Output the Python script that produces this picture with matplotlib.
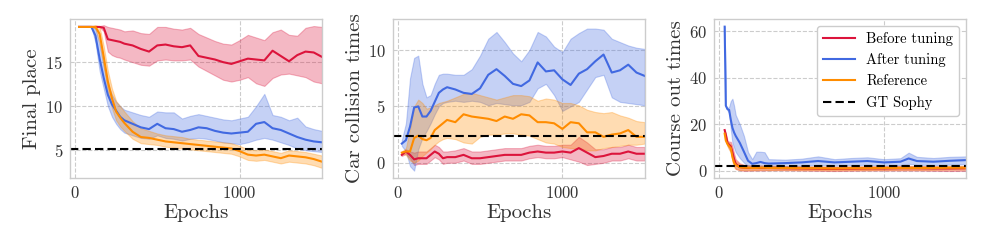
import numpy as np
import matplotlib
matplotlib.use("Agg")
import matplotlib.pyplot as plt

# ---- panel 1: final place ----
ep1 = [25, 100, 125, 150, 175, 200, 225, 250, 275, 300, 350, 400, 450, 500, 550, 600, 650,
       700, 750, 800, 850, 900, 950, 1000, 1050, 1100, 1150, 1200, 1250, 1300, 1350, 1400, 1450, 1500]
p1_before = [19, 19, 19, 19, 18.9, 17.6, 17.5, 17.4, 17.3, 17.1, 16.9, 16.5, 16.2, 16.9, 17.0, 16.8, 16.7,
             16.9, 15.7, 15.5, 15.3, 15.0, 14.8, 15.1, 15.4, 15.3, 15.2, 16.3, 15.7, 15.1, 15.8, 16.2, 16.1, 15.6]
p1_before_lo = [19, 19, 19, 19, 18.5, 16.2, 15.8, 15.6, 15.5, 15.3, 15.0, 14.7, 14.6, 15.2, 15.3, 15.2, 15.2,
                15.3, 14.5, 14.0, 13.5, 13.0, 12.8, 13.0, 13.3, 12.6, 12.3, 13.2, 13.6, 13.7, 13.5, 13.3, 12.8, 12.6]
p1_before_hi = [19, 19, 19, 19.1, 19.2, 19.0, 18.9, 18.8, 18.7, 18.5, 18.6, 18.3, 18.2, 19.0, 19.0, 18.8, 18.7,
                18.9, 18.2, 17.8, 17.4, 17.1, 17.0, 17.5, 18.1, 17.8, 17.5, 18.4, 18.7, 18.1, 18.0, 18.9, 19.1, 19.0]
p1_after = [19, 19, 18.0, 15.4, 13.2, 11.3, 10.2, 9.5, 8.8, 8.4, 8.0, 7.6, 7.4, 8.0, 7.5, 7.4, 7.1,
            7.3, 7.6, 7.5, 7.2, 7.0, 6.9, 7.0, 7.1, 8.0, 8.2, 7.5, 7.3, 6.9, 6.5, 6.2, 6.0, 5.9]
p1_after_lo = [19, 19, 17.2, 14.0, 12.0, 10.0, 8.8, 8.0, 7.4, 7.0, 6.7, 6.4, 6.3, 6.7, 6.4, 6.3, 6.1,
               6.3, 6.4, 6.3, 6.1, 5.9, 5.8, 5.7, 5.9, 6.2, 6.4, 6.2, 5.9, 5.6, 5.2, 5.0, 4.9, 4.8]
p1_after_hi = [19, 19, 18.8, 17.0, 14.6, 12.5, 11.3, 10.5, 10.0, 9.6, 9.3, 9.0, 8.8, 9.4, 9.3, 9.3, 8.6,
               8.9, 9.1, 8.9, 8.7, 8.5, 8.4, 8.6, 8.8, 10.0, 11.4, 9.0, 8.8, 8.4, 8.7, 7.7, 7.4, 7.2]
p1_ref = [19, 19, 19, 18.2, 15.6, 12.8, 10.9, 9.4, 8.7, 8.1, 7.1, 6.5, 6.4, 6.2, 6.0, 5.9, 5.8,
          5.7, 5.6, 5.5, 5.4, 5.3, 5.2, 4.9, 4.5, 4.4, 4.5, 4.3, 4.1, 4.4, 4.3, 4.2, 4.0, 3.7]
p1_ref_lo = [19, 19, 18.8, 17.2, 14.4, 11.6, 9.8, 8.4, 7.7, 7.2, 6.3, 5.8, 5.7, 5.6, 5.4, 5.3, 5.2,
             5.1, 5.0, 4.9, 4.8, 4.7, 4.6, 4.3, 3.9, 3.8, 3.9, 3.7, 3.5, 3.7, 3.6, 3.5, 3.3, 3.0]
p1_ref_hi = [19, 19, 19.2, 19.0, 16.8, 14.0, 12.0, 10.6, 10.0, 9.4, 8.3, 7.5, 7.2, 6.9, 6.7, 6.6, 6.5,
             6.3, 6.2, 6.1, 6.0, 5.9, 5.8, 5.5, 5.1, 5.0, 5.1, 4.9, 4.7, 5.0, 4.9, 4.8, 4.6, 4.4]
p1_gt = 5.15

# ---- panel 2: car collision times ----
ep2 = [25, 50, 75, 100, 125, 150, 175, 200, 225, 250, 275, 300, 350, 400, 450, 500, 550, 600,
       650, 700, 750, 800, 850, 900, 950, 1000, 1050, 1100, 1150, 1200, 1250, 1300, 1350, 1400, 1450, 1500]
p2_before = [0.7, 1.0, 0.7, 0.3, 0.4, 0.4, 0.4, 0.7, 1.0, 0.8, 0.4, 0.5, 0.5, 0.7, 0.4, 0.4, 0.5, 0.6,
             0.7, 0.7, 0.7, 0.9, 1.0, 0.9, 0.9, 1.0, 0.9, 1.3, 0.9, 0.5, 0.6, 0.8, 0.8, 1.0, 0.8, 0.8]
p2_before_lo = [0.6, 0.8, 0.4, -0.2, -0.1, -0.1, -0.1, 0.2, 0.5, 0.3, -0.1, 0.0, 0.0, 0.2, -0.1, -0.1, 0.0, 0.1,
                0.2, 0.2, 0.2, 0.4, 0.5, 0.4, 0.4, 0.5, 0.3, 0.1, -0.2, -0.1, 0.0, 0.2, 0.2, 0.4, 0.2, 0.2]
p2_before_hi = [0.8, 1.2, 1.0, 0.9, 1.0, 1.0, 1.0, 1.3, 1.6, 1.4, 1.0, 1.0, 1.1, 1.3, 1.0, 1.0, 1.1, 1.2,
                1.3, 1.3, 1.3, 1.5, 1.6, 1.5, 1.5, 1.6, 1.6, 2.3, 1.8, 1.2, 1.2, 1.4, 1.4, 1.6, 1.4, 1.4]
p2_after = [1.7, 2.0, 3.2, 4.9, 5.0, 4.1, 4.1, 4.6, 5.4, 6.2, 6.5, 6.7, 6.5, 6.2, 6.1, 6.6, 7.8, 8.3,
            7.7, 7.0, 6.8, 7.3, 8.9, 8.1, 8.2, 7.4, 6.9, 7.9, 8.3, 9.0, 9.6, 8.0, 8.2, 8.7, 8.0, 7.7]
p2_after_lo = [1.5, 1.0, -0.3, -0.7, 1.2, 2.2, 2.8, 3.5, 4.3, 5.0, 5.3, 5.4, 5.5, 5.4, 5.5, 5.4, 5.1, 5.3,
               5.2, 5.1, 5.1, 5.4, 6.6, 7.0, 6.0, 4.6, 5.0, 5.4, 6.5, 7.6, 7.8, 5.8, 5.4, 5.3, 5.2, 5.1]
p2_after_hi = [2.0, 3.5, 7.5, 9.3, 9.5, 7.0, 5.8, 6.0, 7.0, 7.8, 7.9, 7.9, 7.8, 7.8, 8.3, 9.5, 11.0, 11.6,
               10.7, 9.7, 9.0, 10.0, 11.6, 11.2, 10.3, 9.8, 11.0, 11.5, 11.9, 11.9, 11.8, 11.0, 10.7, 10.4, 10.2, 10.1]
p2_ref = [0.9, 1.0, 1.0, 2.2, 2.4, 2.1, 2.0, 2.2, 2.9, 3.2, 3.5, 3.8, 3.6, 4.3, 4.1, 4.0, 3.9, 3.7,
          4.1, 3.9, 4.3, 4.2, 3.6, 3.6, 3.5, 3.0, 3.6, 3.5, 2.7, 2.7, 2.3, 2.5, 2.6, 2.9, 2.3, 2.3]
p2_ref_lo = [0.8, 0.7, 0.2, 0.0, 0.2, 0.6, 0.9, 1.2, 1.6, 1.9, 2.1, 2.2, 2.1, 1.8, 1.7, 2.3, 2.5, 2.5,
             2.6, 2.6, 2.5, 2.4, 2.1, 1.8, 1.7, 1.4, 1.3, 1.3, 1.1, 1.1, 1.3, 1.4, 1.5, 1.6, 1.6, 1.7]
p2_ref_hi = [1.0, 1.3, 3.0, 5.0, 5.6, 5.3, 4.8, 4.9, 5.1, 5.3, 5.4, 5.5, 5.8, 6.1, 6.2, 6.0, 5.8, 5.6,
             5.8, 6.0, 6.0, 5.9, 5.5, 5.7, 5.6, 5.3, 5.3, 5.1, 4.7, 4.5, 4.4, 4.5, 4.2, 4.0, 3.7, 3.6]
p2_gt = 2.37

# ---- panel 3: course out times ----
ep3 = [33, 40, 50, 60, 70, 80, 90, 100, 125, 150, 175, 200, 225, 250, 275, 300, 400, 500,
       600, 700, 800, 900, 1000, 1100, 1150, 1200, 1300, 1400, 1500]
p3_before = [17.5, 15.5, 12.0, 11.2, 10.5, 8.0, 5.0, 3.0, 1.6, 1.3, 1.2, 1.2, 1.2, 1.2, 1.2, 1.2, 1.1, 1.0,
             0.9, 0.8, 0.9, 1.0, 1.0, 1.1, 1.1, 1.1, 1.0, 1.0, 1.1]
p3_before_lo = [17.5, 15, 11, 9.5, 8.5, 5.5, 2.5, 0.8, 0.2, 0.0, 0.0, 0.1, 0.1, 0.1, 0.1, 0.2, 0.2, 0.1,
                0.0, -0.1, 0.0, 0.1, 0.1, 0.1, 0.1, 0.1, 0.0, -0.1, 0.0]
p3_before_hi = [17.5, 16, 13, 12.5, 12.5, 10.5, 7.5, 5.0, 3.2, 2.6, 2.4, 2.3, 2.3, 2.3, 2.2, 2.2, 2.0, 1.9,
                1.8, 1.7, 1.8, 1.9, 1.9, 2.1, 2.1, 2.0, 1.9, 1.9, 2.0]
p3_after = [62, 28, 26.5, 26.2, 22, 18.5, 16.5, 15.0, 12.0, 8.2, 4.3, 3.0, 3.3, 3.8, 3.3, 3.1, 3.3, 3.6,
            4.2, 3.6, 3.9, 4.2, 3.6, 3.9, 5.3, 4.2, 3.9, 4.3, 4.6]
p3_after_lo = [62, 28, 26, 25, 18, 12, 10, 8, 5.5, 3.5, 2.0, 1.5, 1.8, 1.9, 1.8, 1.8, 2.0, 2.2,
               2.5, 2.2, 2.4, 2.6, 2.2, 2.4, 3.0, 2.6, 2.4, 2.6, 2.8]
p3_after_hi = [62, 28, 27, 27.5, 30, 31, 28, 24, 20, 15, 8, 5, 8.2, 8.2, 8.0, 5.0, 4.8, 5.2,
               6.2, 5.0, 5.5, 5.8, 5.0, 5.4, 7.8, 6.0, 5.5, 6.0, 6.2]
p3_ref = [16.0, 13.0, 11.5, 10.5, 9.8, 6.0, 3.5, 2.5, 1.5, 1.3, 1.3, 1.2, 1.2, 1.3, 1.3, 1.2, 1.2, 1.1,
          1.1, 1.0, 1.1, 1.1, 1.2, 1.2, 1.2, 1.2, 1.2, 1.3, 1.3]
p3_ref_lo = [16, 12.5, 10.5, 9.0, 8.0, 4.0, 1.5, 0.8, 0.3, 0.3, 0.3, 0.3, 0.3, 0.4, 0.4, 0.3, 0.4, 0.3,
             0.3, 0.2, 0.3, 0.3, 0.4, 0.4, 0.4, 0.4, 0.4, 0.5, 0.5]
p3_ref_hi = [16, 13.5, 12.5, 12.0, 11.5, 8.0, 5.5, 4.2, 2.8, 2.4, 2.3, 2.2, 2.2, 2.3, 2.3, 2.2, 2.0, 1.9,
             1.9, 1.8, 1.9, 1.9, 2.0, 2.0, 2.0, 2.0, 2.0, 2.1, 2.1]
p3_gt = 2.0

labels = ["Before tuning", "After tuning", "Reference", "GT Sophy"]
colors = ["#DC143C", "#4169E1", "#FF8C00"]

plt.rcParams["font.family"] = "serif"
plt.rcParams["font.serif"] = ["cmr10", "DejaVu Serif"]
plt.rcParams["mathtext.fontset"] = "cm"
plt.rcParams["axes.formatter.use_mathtext"] = True

panels = [
    (ep1, [(p1_before, p1_before_lo, p1_before_hi), (p1_after, p1_after_lo, p1_after_hi),
           (p1_ref, p1_ref_lo, p1_ref_hi)], p1_gt, "Final place", (1.85, 19.9), [5, 10, 15]),
    (ep2, [(p2_before, p2_before_lo, p2_before_hi), (p2_after, p2_after_lo, p2_after_hi),
           (p2_ref, p2_ref_lo, p2_ref_hi)], p2_gt, "Car collision times", (-1.35, 12.75), [0, 5, 10]),
    (ep3, [(p3_before, p3_before_lo, p3_before_hi), (p3_after, p3_after_lo, p3_after_hi),
           (p3_ref, p3_ref_lo, p3_ref_hi)], p3_gt, "Course out times", (-3.1, 65.3), [0, 20, 40, 60]),
]

fig = plt.figure(figsize=(9.87, 2.47), dpi=100)
lefts = [0.0709, 0.3979, 0.7237]

for i, (ep, series, gt, ylab, ylim, yt) in enumerate(panels):
    ax = fig.add_axes([lefts[i], 0.2794, 0.2553, 0.6437])
    x = np.array(ep)
    for (m, lo, hi), c, lab in zip(series, colors, labels):
        ax.fill_between(x, lo, hi, color=c, alpha=0.3, lw=0.8)
        ax.plot(x, m, color=c, lw=1.5, label=lab)
    ax.axhline(gt, color="black", ls="--", lw=1.5, dashes=(4, 2), label=labels[3])
    ax.set_xlim(-30, 1500)
    ax.set_ylim(*ylim)
    ax.set_xticks([0, 1000])
    ax.set_yticks(yt)
    ax.grid(True, ls="--", color="#cccccc", lw=0.8)
    ax.set_axisbelow(True)
    for s in ax.spines.values():
        s.set_color("#cccccc")
        s.set_linewidth(1.0)
    ax.tick_params(length=0, pad=5, labelsize=12, labelcolor="#333333")
    ax.set_xlabel("Epochs", fontsize=15, color="#333333", labelpad=2)
    ax.set_ylabel(ylab, fontsize=15, color="#333333", labelpad=3)
    if i == 2:
        ax.legend(loc="upper right", fontsize=10.5, frameon=True, edgecolor="#cccccc",
                  fancybox=True, framealpha=1.0, handlelength=2.2)

fig.savefig("out.png", dpi=100)
